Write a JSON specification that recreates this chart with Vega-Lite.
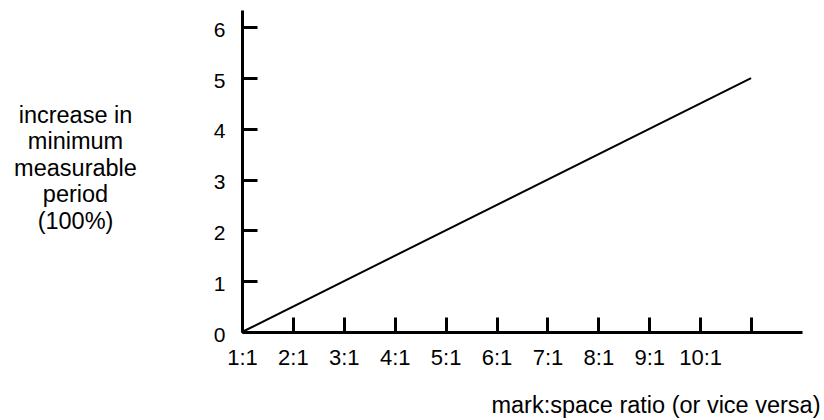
{
  "$schema": "https://vega.github.io/schema/vega-lite/v6.json",
  "autosize": "none",
  "padding": {"left": 242, "top": 10, "right": 22, "bottom": 88},
  "width": 560,
  "height": 322,
  "background": "white",
  "config": {
    "view": {"stroke": null},
    "font": "Liberation Sans",
    "axis": {
      "domainColor": "black",
      "domainWidth": 3,
      "tickColor": "black",
      "tickWidth": 3,
      "tickSize": -15,
      "grid": false,
      "labelColor": "black",
      "titleColor": "black",
      "labelFont": "Liberation Sans",
      "titleFont": "Liberation Sans",
      "titleFontWeight": "normal"
    }
  },
  "data": {"values": [
    {"ratio": 1, "increase": 0},
    {"ratio": 11, "increase": 5}
  ]},
  "mark": {"type": "line", "color": "black", "strokeWidth": 2},
  "encoding": {
    "x": {
      "field": "ratio",
      "type": "quantitative",
      "scale": {"domain": [1, 12], "nice": false, "zero": false},
      "axis": {
        "values": [1, 2, 3, 4, 5, 6, 7, 8, 9, 10, 11],
        "labelExpr": "datum.value < 11 ? datum.value + ':1' : ''",
        "labelFontSize": 22,
        "labelPadding": 30,
        "labelFlush": false,
        "labelOverlap": false,
        "title": "mark:space ratio (or vice versa)",
        "titleFontSize": 23.5,
        "titleAnchor": "end",
        "titleAlign": "right",
        "titleBaseline": "alphabetic",
        "titleX": 578,
        "titleY": 80
      }
    },
    "y": {
      "field": "increase",
      "type": "quantitative",
      "scale": {"domain": [0, 6.34], "nice": false},
      "axis": {
        "values": [0, 1, 2, 3, 4, 5, 6],
        "labelFontSize": 21,
        "labelPadding": 32,
        "labelOffset": 3,
        "labelFlush": false,
        "labelOverlap": false,
        "title": ["increase in", "minimum", "measurable", "period", "(100%)"],
        "titleFontSize": 23.5,
        "titleLineHeight": 26.6,
        "titleAngle": 0,
        "titleAlign": "center",
        "titleBaseline": "alphabetic",
        "titleX": -167,
        "titleY": 112
      }
    }
  }
}
